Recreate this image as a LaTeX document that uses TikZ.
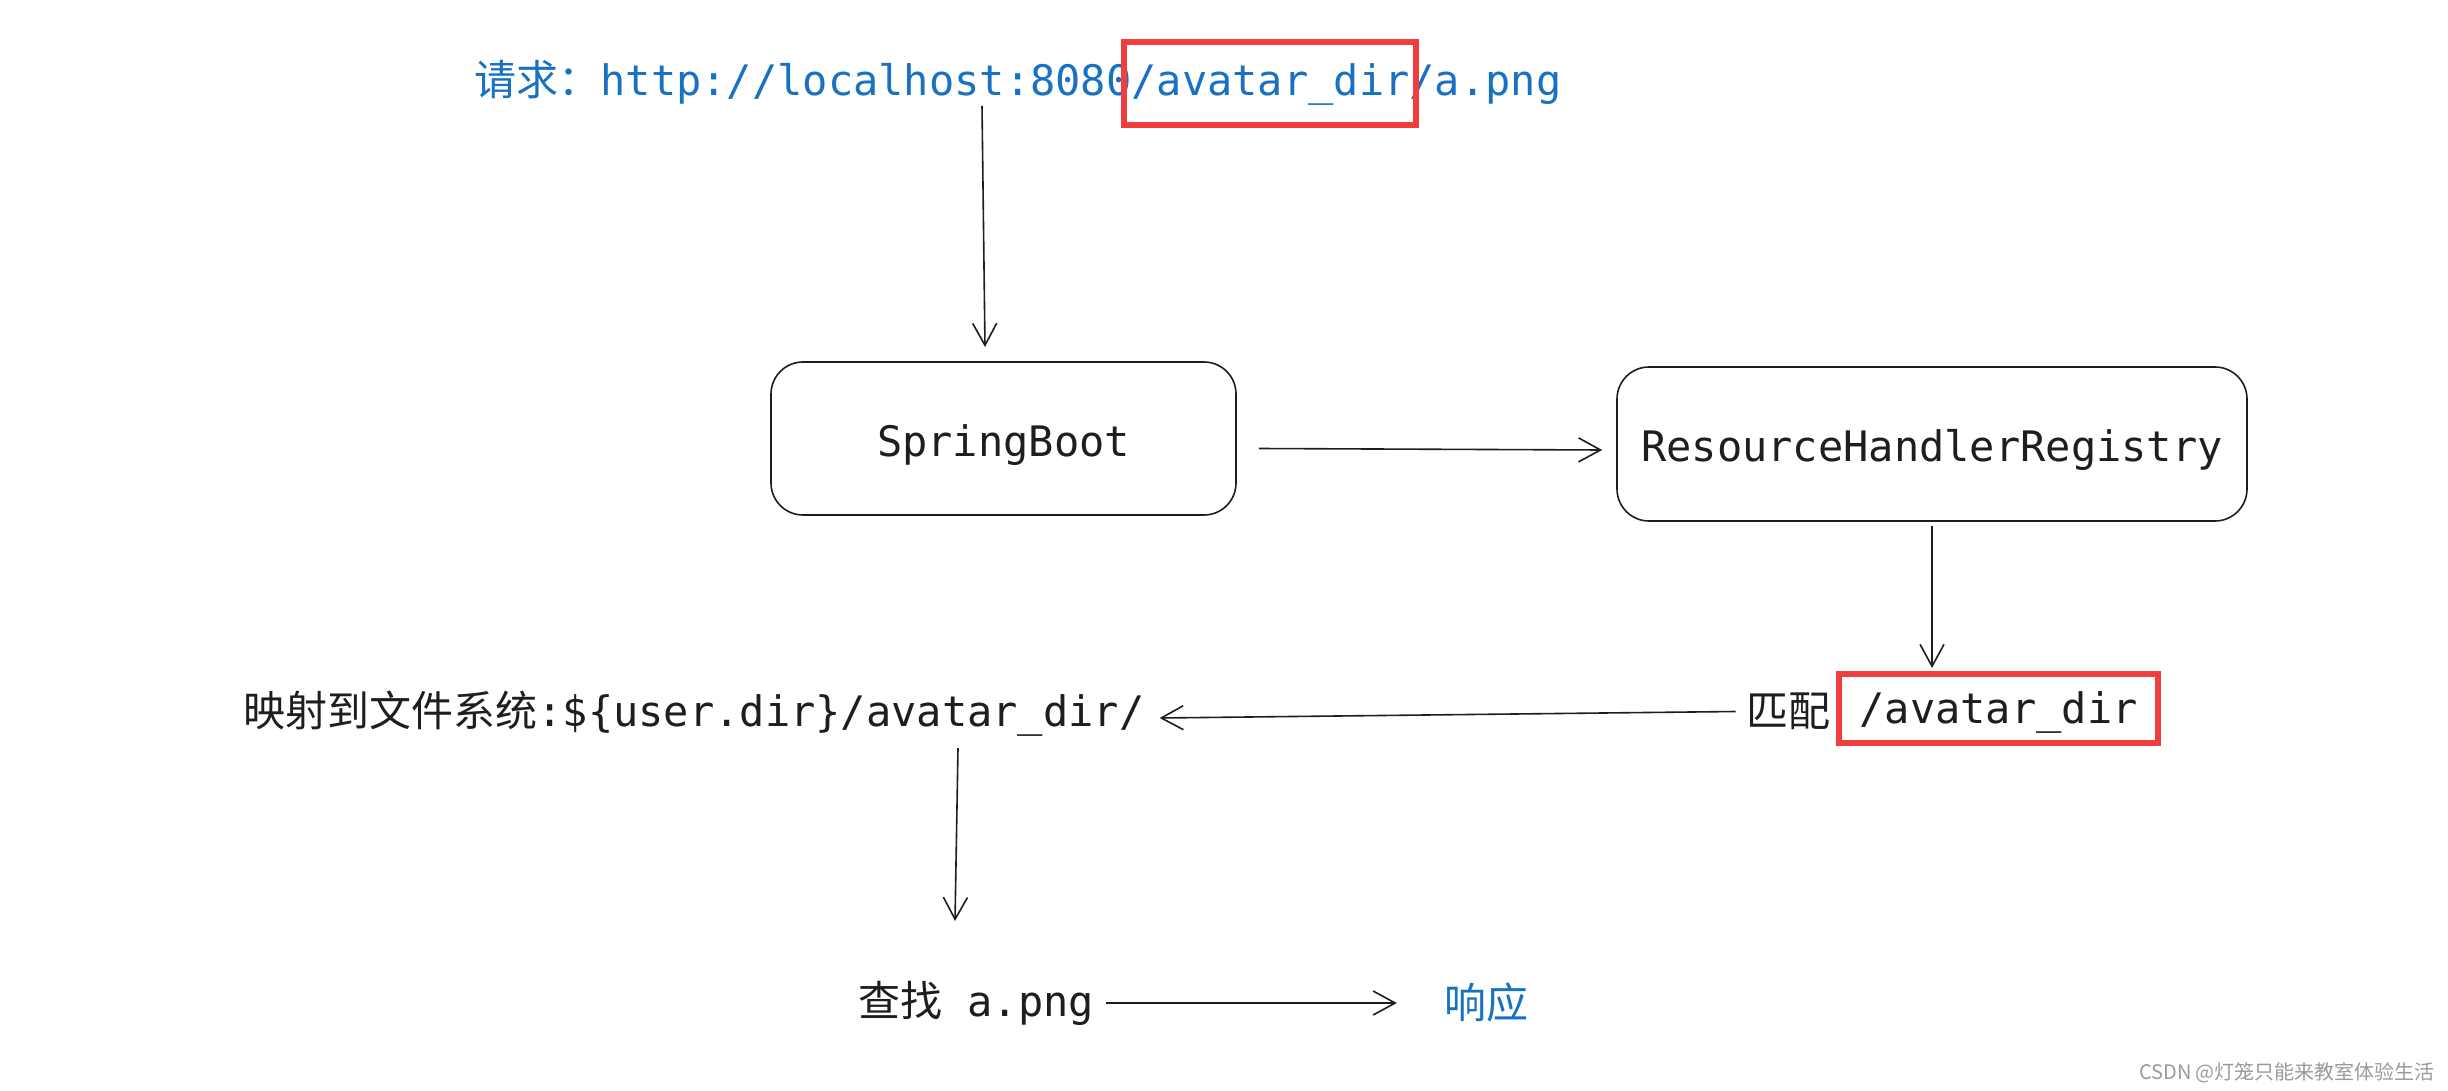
\documentclass[tikz,border=0pt]{standalone}
\usepackage{fontspec}
\setmainfont{Noto Sans CJK SC}
\setmonofont{DejaVu Sans Mono}
\usetikzlibrary{arrows.meta}
\definecolor{ink}{HTML}{1E1E1E}
\definecolor{exblue}{HTML}{1971C2}
\definecolor{exred}{HTML}{F03E3E}
\definecolor{wmgray}{HTML}{9A9A9A}
\begin{document}
\begin{tikzpicture}[x=1pt,y=-1pt,
  font=\fontsize{42pt}{50pt}\selectfont,
  txt/.style={inner sep=0pt, text=ink},
  roundbox/.style={draw=ink, line width=1.6pt, rounded corners=32pt, text=ink, inner sep=0pt},
  redbox/.style={draw=exred, line width=6pt, inner sep=0pt},
  arr/.style={draw=ink, line width=1.6pt, -{Straight Barb[length=22pt,width=24pt,line width=1.6pt]}}]
\useasboundingbox[fill=white] (0,0) rectangle (2448,1091);

% top request line
\node[txt, text=exblue] (req) at (1018,83) {请求：\ttfamily http://localhost:8080/avatar\_dir/a.png};
\node[redbox, minimum width=292pt, minimum height=83pt] (hl1) at (1270,83.5) {};

% boxes
\node[roundbox, minimum width=465pt, minimum height=153pt] (sb) at (1003.5,438.5) {\raisebox{-7pt}[\height][\depth]{\ttfamily SpringBoot}};
\node[roundbox, minimum width=630pt, minimum height=154pt] (rhr) at (1932,444) {\raisebox{-6pt}[\height][\depth]{\ttfamily ResourceHandlerRegistry}};

% match row
\node[redbox, text=ink, minimum width=319pt, minimum height=69pt] (hl2) at (1998.5,708.5) {\raisebox{-4pt}[\height][\depth]{\ttfamily /avatar\_dir}};
\node[txt, anchor=east] (pp) at ([shift={(-5,3)}]hl2.west) {匹配};
\node[txt] (map) at (694,714) {映射到文件系统\ttfamily :\$\{user.dir\}/avatar\_dir/};

% bottom row
\node[txt] (find) at (976,1003) {查找\ttfamily\ a.png};
\node[txt, text=exblue] (resp) at (1486,1003) {响应};

% watermark
\node[inner sep=0pt, text=wmgray, font=\fontsize{20pt}{24pt}\selectfont] (wm) at (2287,1073) {CSDN @灯笼只能来教室体验生活};

% connectors
\coordinate (a1s) at (982,106);
\coordinate (a1e) at (985,347);
\draw[arr] (a1s) -- (a1e);
\draw[arr] ([shift={(22,10)}]sb.east) -- ([shift={(-14,6)}]rhr.west);
\draw[arr, shorten <=4pt, shorten >=3pt] (rhr.south) -- (rhr.south |- hl2.north);
\draw[arr] ([shift={(-11,0)}]pp.west) -- ([shift={(15,4)}]map.east);
\coordinate (a4s) at (958,748);
\coordinate (a4e) at (955,921);
\draw[arr] (a4s) -- (a4e);
\draw[arr] ([xshift=12pt]find.east) -- ([xshift=-47pt]resp.west);
\end{tikzpicture}
\end{document}
